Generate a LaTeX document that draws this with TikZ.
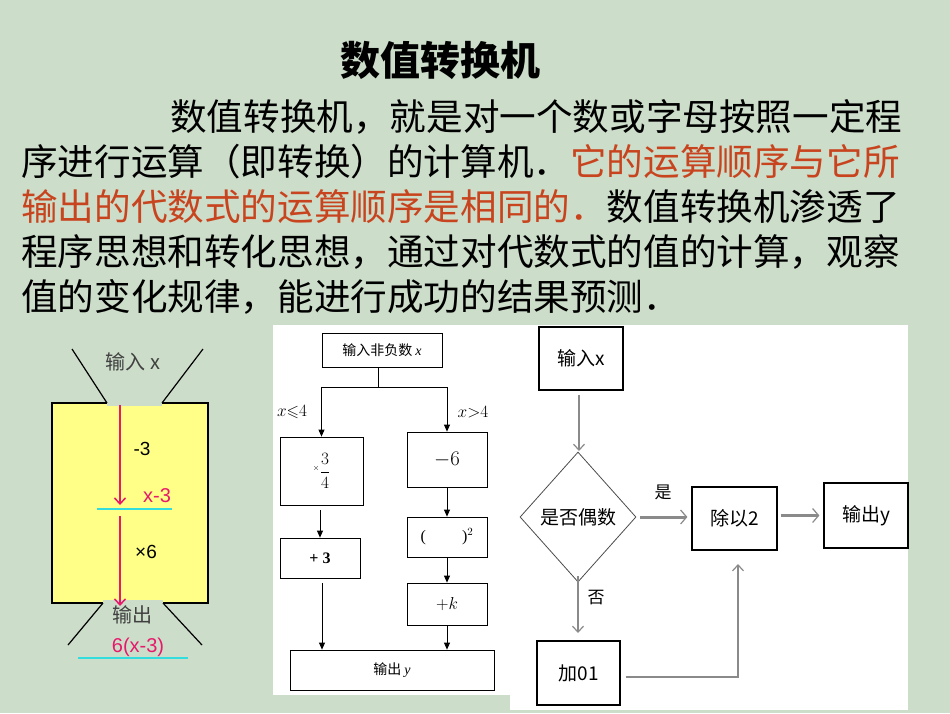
\documentclass[tikz,border=0pt]{standalone}
\usepackage{amssymb}
\usepackage{fontspec}
\setmainfont{Liberation Sans}
\newfontfamily\cjk{Noto Sans CJK SC}
\newfontfamily\tms{Liberation Serif}
\usetikzlibrary{arrows.meta,shapes.geometric}
\definecolor{bg}{HTML}{CCDDCA}
\definecolor{redt}{HTML}{C8441E}
\definecolor{pinkc}{HTML}{E8186A}
\definecolor{cyanc}{HTML}{33DDDD}
\definecolor{yel}{HTML}{FFFF88}
\definecolor{grayc}{HTML}{8A8A8A}
\tikzset{
 body/.style={anchor=west,inner sep=0pt,font=\cjk\fontsize{36.6}{36.6}\selectfont},
 fbox/.style={draw,thick,inner sep=0pt,font=\cjk\fontsize{14}{14}\selectfont},
 rbox/.style={draw,line width=1.2pt,inner sep=0pt,font=\cjk\fontsize{19}{19}\selectfont},
 farr/.style={-{Triangle[length=7pt,width=6pt]}},
 garr/.style={grayc,line width=1.2pt,-{Straight Barb[length=6pt,width=11pt]}},
 gtarr/.style={grayc,line width=3pt,-{Straight Barb[length=6pt,width=14pt,line width=1.2pt]}},
 parr/.style={pinkc,line width=1.5pt,-{Straight Barb[length=6pt,width=11pt]}},
 lbl/.style={inner sep=0pt,font=\fontsize{19}{19}\selectfont}
}
\begin{document}
\begin{tikzpicture}[x=1pt,y=-1pt]
\fill[bg] (0,0) rectangle (950,713);
\useasboundingbox (0,0) rectangle (950,713);
% text
\node[inner sep=0pt,font=\cjk\bfseries\fontsize{40}{40}\selectfont] (title) at (440,60) {数值转换机};
\node[body] (l1) at (170,117) {数值转换机，就是对一个数或字母按照一定程};
\node[body] (l2) at (21,162) {序进行运算（即转换）的计算机．\textcolor{redt}{它的运算顺序与它所}};
\node[body] (l3) at (21,207) {\textcolor{redt}{输出的代数式的运算顺序是相同的．}数值转换机渗透了};
\node[body] (l4) at (21,252) {程序思想和转化思想，通过对代数式的值的计算，观察};
\node[body] (l5) at (21,297) {值的变化规律，能进行成功的结果预测．};
% left machine
\filldraw[fill=yel,draw=black,line width=1.5pt] (52,403) rectangle (208,603);
\fill[bg] (107,400) rectangle (162,406);
\fill[bg] (103,600) rectangle (163,606);
\draw[line width=1.2pt] (72,349) -- (107,403) (203,349) -- (162,403) (103,603) -- (68,645) (163,603) -- (202,645);
\node[lbl,font=\cjk\fontsize{20}{20}\selectfont,text=black!75] (in) at (133,362) {输入 x};
\coordinate (a1s) at (120,405); \coordinate (a1e) at (120,505);
\coordinate (a2s) at (120,516); \coordinate (a2e) at (120,606);
\draw[parr] (a1s) -- (a1e);
\draw[parr] (a2s) -- (a2e);
\node[lbl] (m3) at (142,449) {-3};
\node[lbl,text=pinkc,font=\fontsize{20}{20}\selectfont] (x3) at (157,496) {x-3};
\draw[cyanc,line width=2pt] (97,509) -- (172,509);
\node[lbl] (t6) at (146,552) {×6};
\node[lbl,font=\cjk\fontsize{20}{20}\selectfont,text=black!75] (out) at (132,615) {输出};
\node[lbl,text=pinkc,font=\fontsize{20}{20}\selectfont] (res) at (138,647) {6(x-3)};
\draw[cyanc,line width=2pt] (78,658) -- (188,658);
% white panels
\fill[white] (273,325) rectangle (510,695);
\fill[white] (510,325) rectangle (908,710);
% middle flowchart
\node[fbox,minimum width=120,minimum height=34] (m0) at (382,350) {输入非负数 {\tms\itshape x}};
\node[fbox,minimum width=83,minimum height=68] (L1) at (321.5,471) {\tms\fontsize{17}{17}\selectfont ${}^{\scriptscriptstyle\times}\displaystyle\frac{3}{4}$};
\node[fbox,minimum width=80,minimum height=55] (R1) at (447,459.5) {\tms\fontsize{20}{20}\selectfont $-6$};
\node[fbox,minimum width=80,minimum height=40] (L2) at (320,558) {\tms\fontsize{16}{16}\selectfont\bfseries + 3};
\node[fbox,minimum width=80,minimum height=40] (R2) at (447,537) {\tms\fontsize{16}{16}\selectfont ( \qquad )$^2$};
\node[fbox,minimum width=80,minimum height=42] (R3) at (447,604) {\tms\fontsize{16}{16}\selectfont $+k$};
\node[fbox,minimum width=204,minimum height=40] (mo) at (392,670) {输出 {\tms\itshape y}};
\coordinate (jn) at (378,387);
\draw[thick] (m0.south -| jn) -- (jn);
\draw[thick,farr] (jn) -| (L1.north);
\draw[thick,farr] (jn) -| (R1.north);
\node[inner sep=0pt,font=\tms\fontsize{16}{16}\selectfont] (c1) at (292,412) {$x{\leqslant}4$};
\node[inner sep=0pt,font=\tms\fontsize{16}{16}\selectfont] (c2) at (473,412) {$x{>}4$};
\coordinate (l1b) at (320,510);
\coordinate (l2b) at (322,583);
\draw[thick,farr] (l1b) -- (L2.north -| l1b);
\draw[thick,farr] (l2b) -- (mo.north -| l2b);
\draw[thick,farr] (R1.south) -- (R2.north);
\draw[thick,farr] (R2.south) -- (R3.north);
\draw[thick,farr] (R3.south) -- (R3.south |- mo.north);
% right flowchart
\node[rbox,minimum width=84,minimum height=63] (r0) at (581,358.5) {输入x};
\node[draw=black!70,thick,diamond,shape aspect=0.9,minimum width=116,minimum height=130,inner sep=0pt,font=\cjk\fontsize{19}{19}\selectfont] (dia) at (578,517) {是否偶数};
\node[rbox,minimum width=85,minimum height=63] (div) at (734.5,518.5) {除以2};
\node[rbox,minimum width=84,minimum height=65] (ro) at (866,515.5) {输出y};
\node[rbox,minimum width=83,minimum height=64] (add) at (578.5,673) {加01};
\coordinate (t1) at (579,395); \coordinate (t2) at (579,451);
\draw[garr] (t1) -- (t2);
\draw[gtarr] ([xshift=4pt]dia.east) -- ([xshift=-4pt]div.west |- dia.east);
\node[inner sep=0pt,font=\cjk\fontsize{17}{17}\selectfont] (yes) at (663,492) {是};
\draw[gtarr] ([xshift=3pt]div.east |- ro.west) -- ([xshift=-4pt]ro.west);
\coordinate (n1) at (578,576); \coordinate (n2) at (578,633);
\draw[garr] (n1) -- (n2);
\node[inner sep=0pt,font=\cjk\fontsize{17}{17}\selectfont] (no) at (596,598) {否};
\coordinate (corner) at (738,677);
\coordinate (upend) at (738,564);
\draw[garr] ([xshift=5pt]add.east |- corner) -- (corner) -- (upend);
\end{tikzpicture}
\end{document}
